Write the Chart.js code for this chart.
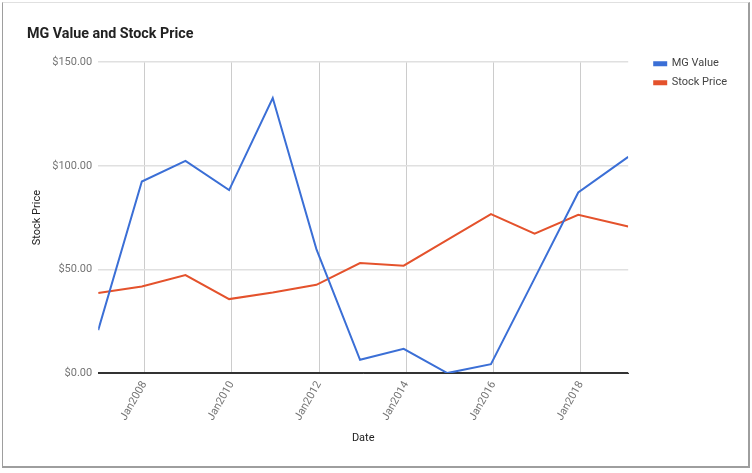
<!DOCTYPE html>
<html>
<head>
<meta charset="utf-8">
<script src="https://cdn.jsdelivr.net/npm/chart.js@4.4.1/dist/chart.umd.min.js"></script>
<style>
  html, body { margin: 0; padding: 0; background: #fff; }
  #wrap { position: relative; width: 752px; height: 473px; }
  #frame {
    position: absolute; left: 2px; top: 2px; width: 745px; height: 463px;
    border-left: 1px solid #9e9e9e; border-right: 2px solid #9e9e9e;
    border-bottom: 2px solid #9e9e9e; border-top: 1px solid #e0e0e0;
    pointer-events: none;
  }
</style>
</head>
<body>
<div id="wrap">
  <canvas id="chart" width="752" height="473"></canvas>
  <div id="frame"></div>
</div>
<script>
// observation dates (one per year, last one early 2019)
const dates = ['2006-12-10', '2007-12-10', '2008-12-10', '2009-12-10', '2010-12-10',
  '2011-12-10', '2012-12-10', '2013-12-10', '2014-12-10', '2015-12-10',
  '2016-12-10', '2017-12-10', '2019-02-01'];
const mgValue = [20.7, 92.4, 102.4, 88.3, 132.7, 59.8, 6.4, 11.7, 0, 4.3, 45.7, 87.1, 104.3];
const stockPrice = [38.6, 41.8, 47.3, 35.7, 38.9, 42.6, 53.1, 51.8, 64.3, 76.7, 67.3, 76.4, 70.7];
const xTickYears = [2008, 2010, 2012, 2014, 2016, 2018];
const yTicks = [0, 50, 100, 150];

// date string -> decimal year, so a plain linear axis can be used
function toYear(s) {
  const d = new Date(s + 'T00:00:00Z');
  const y = d.getUTCFullYear();
  const start = Date.UTC(y, 0, 1), end = Date.UTC(y + 1, 0, 1);
  return y + (d.getTime() - start) / (end - start);
}
const xs = dates.map(toYear);

const font = 'Roboto';

new Chart(document.getElementById('chart'), {
  type: 'line',
  data: {
    datasets: [
      {
        label: 'MG Value',
        data: xs.map((x, i) => ({ x: x, y: mgValue[i] })),
        borderColor: '#3b6fd6',
        backgroundColor: '#3b6fd6',
        borderWidth: 2,
        pointRadius: 0,
        tension: 0
      },
      {
        label: 'Stock Price',
        data: xs.map((x, i) => ({ x: x, y: stockPrice[i] })),
        borderColor: '#e4522c',
        backgroundColor: '#e4522c',
        borderWidth: 2,
        pointRadius: 0,
        tension: 0
      }
    ]
  },
  options: {
    responsive: false,
    animation: false,
    layout: { padding: { left: 27, right: 15, top: 0, bottom: 24 } },
    plugins: {
      title: {
        display: true,
        text: 'MG Value and Stock Price',
        align: 'start',
        color: '#222',
        font: { family: font, size: 14.3, weight: 'bold' },
        padding: { top: 26, bottom: 19 }
      },
      legend: {
        position: 'right',
        align: 'start',
        // empty title only pushes the items down to the plot top
        title: { display: true, text: '', font: { family: font, size: 11 }, padding: { top: 37, bottom: 0 } },
        labels: {
          boxWidth: 12,
          boxHeight: 3,
          padding: 8,
          color: '#444',
          font: { family: font, size: 11 }
        }
      },
      tooltip: { enabled: false }
    },
    scales: {
      x: {
        type: 'linear',
        min: xs[0],
        max: xs[xs.length - 1],
        afterBuildTicks: (axis) => { axis.ticks = xTickYears.map(v => ({ value: v })); },
        ticks: {
          callback: (v) => 'Jan' + v,
          minRotation: 60,
          maxRotation: 60,
          padding: 6,
          color: '#757575',
          font: { family: font, size: 11 }
        },
        grid: { color: '#cccccc', drawTicks: false },
        border: { color: '#333', width: 1 },
        title: {
          display: true,
          text: 'Date',
          color: '#222',
          font: { family: font, size: 11 },
          padding: { top: 3 }
        }
      },
      y: {
        min: 0,
        max: 150,
        afterBuildTicks: (axis) => { axis.ticks = yTicks.map(v => ({ value: v })); },
        ticks: {
          callback: (v) => '$' + v.toFixed(2),
          padding: 6,
          color: '#757575',
          font: { family: font, size: 11 }
        },
        grid: { color: (c) => c.tick && c.tick.value === 0 ? '#333' : '#e0e0e0', lineWidth: 1.5, drawTicks: false },
        border: { display: false },
        title: {
          display: true,
          text: 'Stock Price',
          color: '#222',
          font: { family: font, size: 11 },
          padding: { top: 4, bottom: 2 }
        }
      },
      // empty right-hand axis: only keeps a gap between plot and legend
      gap: {
        position: 'right',
        min: 0,
        max: 150,
        ticks: { display: false },
        grid: { display: false },
        border: { display: false },
        afterFit: (s) => { s.width = 18; }
      }
    }
  }
});
</script>
</body>
</html>
